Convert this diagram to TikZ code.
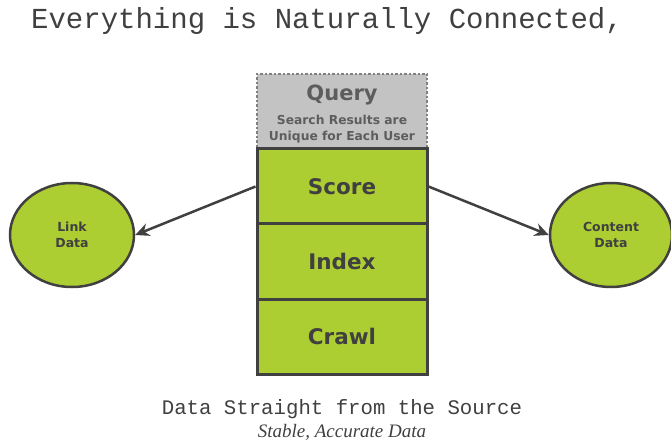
\documentclass[tikz,border=0pt]{standalone}
\usepackage{fontspec}
\setmainfont{DejaVu Sans}
\newfontfamily\monofont{Liberation Mono}
\newfontfamily\handfont{Liberation Serif}
\usetikzlibrary{shapes.geometric, arrows.meta}

\definecolor{leaf}{HTML}{ADCE32}
\definecolor{edge}{HTML}{404040}
\definecolor{fog}{HTML}{C3C3C3}

\tikzset{
  layer/.style={draw=edge, line width=3pt, fill=leaf, minimum width=170pt,
    minimum height=75pt, text=edge, font=\bfseries\fontsize{21.5}{24}\selectfont},
  blob/.style={ellipse, draw=edge, line width=2.5pt, fill=leaf, text=edge,
    minimum width=124pt, minimum height=104pt, align=center,
    font=\bfseries\fontsize{12.5}{15.5}\selectfont},
  link/.style={draw=edge, line width=2.5pt, -{Stealth[length=14pt, width=13pt]}}
}

\begin{document}
\begin{tikzpicture}[x=1pt, y=-1pt]
   \useasboundingbox (0,0) rectangle (671,443);
   \node (T) at (327,21) {\monofont\fontsize{29}{31}\selectfont\color{edge}Everything is Naturally Connected,};

   \node (Q) at (342,111.5) [draw=gray, dotted, line width=2.5pt, fill=fog,
      minimum width=170pt, minimum height=75pt] {};
   \node at (342,95) {\bfseries\fontsize{21}{24}\selectfont\color{edge!85}Query};
   \node at (342,129) [align=center, text=edge!85, font=\bfseries\fontsize{12.3}{15.5}\selectfont]
      {Search Results are\\Unique for Each User};

   \node (S) at (342,186.5) [layer] {Score};
   \node (I) at (342,261.5) [layer] {Index};
   \node (C) at (342,336.5) [layer] {Crawl};

   \node (L) at (72,235) [blob] {Link\\Data};
   \node (R) at (611,235) [blob, minimum width=122pt] {Content\\Data};

   \draw[link] (S.west) -- (L.east);
   \draw[link] (S.east) -- (R.west);

   \node (B) at (342,409) {\monofont\fontsize{20.7}{22}\selectfont\color{edge}Data Straight from the Source};
   \node (U) at (342,432) {\handfont\itshape\fontsize{19}{21}\selectfont\color{edge}Stable, Accurate Data};
\end{tikzpicture}
\end{document}
